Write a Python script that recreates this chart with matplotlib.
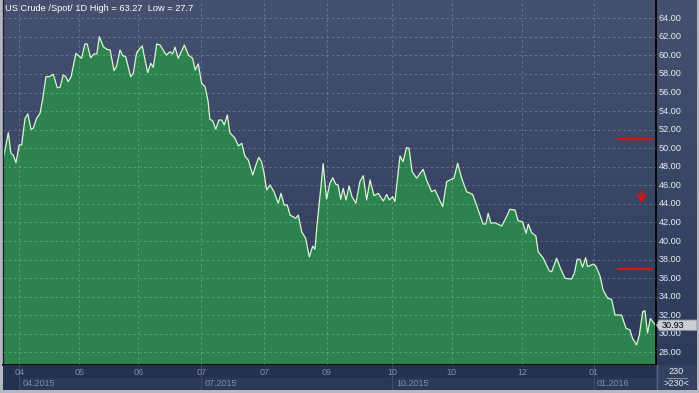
import numpy as np
import matplotlib
matplotlib.use('Agg')
from matplotlib import pyplot as plt
from matplotlib.colors import LinearSegmentedColormap
from matplotlib.patches import Rectangle, Polygon
import matplotlib.transforms as mtransforms

plt.rcParams['font.family'] = ['Liberation Sans', 'DejaVu Sans']

# US crude spot, daily closes (trading-day index, price)
day = [0.1, 1.9, 2.8, 3.6, 4.6, 5.7, 6.6, 7.8, 8.8, 9.9, 10.7, 11.9, 13.1, 14.0, 15.2, 16.4, 17.8, 19.2, 20.2, 21.3,
       22.2, 23.1, 24.1, 25.8, 27.8, 29.0, 29.8, 31.0, 32.2, 33.2, 34.1, 35.5, 36.7, 37.9, 39.3, 40.2, 41.4, 42.4, 43.4,
       45.2, 46.1, 47.3, 48.5, 49.3, 49.9, 51.2, 52.3, 53.2, 54.4, 55.6, 57.0,
       57.9, 59.1, 60.0, 60.9, 62.0, 64.2, 65.6, 67.1, 68.0, 69.1, 70.3, 71.5, 72.6, 73.2, 74.2, 75.3, 76.4, 77.4, 78.3,
       79.4, 80.3, 82.1, 83.3, 84.5, 85.6, 86.8, 88.4, 89.5, 90.5, 91.5, 92.4, 93.3, 94.5, 95.9, 97.4, 98.4, 99.5, 100.6,
       101.6, 103.6, 104.5, 105.7, 107.1, 108.4, 109.6, 110.4, 111.2, 112.4, 113.3, 114.5, 115.7, 116.7, 117.8, 118.6,
       119.5, 120.4, 121.4, 122.5, 123.5, 124.9, 126.3, 127.5, 128.7, 129.9, 131.3, 132.8, 134.6, 135.8, 136.7, 137.9,
       138.7, 140.5, 141.6, 142.8, 143.7, 144.8, 146.4, 148.7, 149.9, 151.7, 152.9, 154.0, 155.6, 157.0, 158.8, 159.6,
       160.9, 162.3, 164.1, 166.2, 168.2, 169.9, 170.9, 171.7, 172.7, 174.1, 176.5, 178.2, 179.4, 181.2, 182.3, 183.9,
       185.1, 185.9, 187.1, 188.6, 189.4, 191.2, 193.3, 194.2, 195.9, 197.3, 198.9, 201.2, 202.2, 203.2, 204.2, 205.1,
       206.2, 206.9, 208.9, 209.8, 211.3, 212.4, 214.0, 215.4, 216.6, 218.9, 220.5, 221.9, 222.8, 224.2, 225.2, 226.4,
       227.2, 228.1, 229.1, 230.9]
price = [48.91, 51.67, 49.45, 49.27, 48.44, 50.35, 50.35, 53.22, 53.69, 52.04, 52.15, 53.22, 53.76, 55.20, 57.71, 57.71,
         57.97, 56.52, 56.57, 57.89, 57.71, 57.17, 57.71, 60.23, 59.69, 61.23, 61.23, 59.75, 60.15, 60.15, 62.02, 60.94,
         60.66, 60.58, 58.35, 58.86, 60.58, 59.97, 59.86, 57.71, 58.07, 60.29, 60.77, 61.02, 60.05, 58.14, 59.15, 58.72,
         61.23, 61.12, 60.40,
         60.05, 60.40, 60.15, 60.88, 59.69, 61.12, 60.05, 59.69, 58.43, 59.08, 57.00, 56.63, 55.01, 53.12, 52.97, 52.04,
         53.04, 53.04, 52.50, 53.58, 51.67, 51.07, 50.24, 50.53, 49.16, 48.73, 47.11, 48.19, 49.02, 48.55, 47.30, 45.50,
         46.04, 45.31, 44.07, 45.14, 43.88, 43.88, 42.80, 42.45, 42.80, 41.00, 40.29, 38.28, 39.46, 39.11, 41.91, 45.50,
         48.33, 44.53, 46.22, 46.82, 46.11, 46.04, 44.50, 45.68, 44.42, 45.93, 44.78, 44.07, 46.39, 47.04, 44.42, 46.58,
         44.88, 45.14, 44.31, 45.03, 44.42, 44.78, 44.24, 49.16, 48.55, 50.06, 49.99, 47.47, 46.76, 47.73, 46.58, 45.31,
         45.50, 44.78, 43.70, 46.39, 46.68, 46.76, 48.38, 46.79, 45.31, 45.03, 43.34, 41.83, 41.83, 42.99, 41.91, 41.97,
         41.62, 42.62, 43.42, 43.34, 42.19, 42.08, 40.83, 41.83, 40.90, 40.54, 38.85, 38.14, 36.80, 36.69, 38.14, 37.06,
         35.98, 35.91, 36.52, 38.03, 38.03, 37.17, 38.20, 37.23, 37.52, 37.31, 36.23, 34.72, 33.83, 33.72, 32.03, 32.03,
         30.60, 30.41, 29.52, 28.80, 29.87, 32.38, 32.49, 30.09, 31.65, 30.93]
assert len(day) == len(price)

month_days = [5.8, 27.0, 47.9, 70.2, 92.5, 114.5, 137.8, 158.8, 183.8, 209.0]
month_labels = ['04', '05', '06', '07', '07', '09', '10', '10', '12', '01']
year_days = [5.8, 70.2, 137.8, 209.0]
year_labels = ['04.2015', '07.2015', '10.2015', '01.2016']
y_ticks = [28, 30, 32, 34, 36, 38, 40, 42, 44, 46, 48, 50, 52, 54, 56, 58, 60, 62, 64]
levels = [51.0, 37.0]
level_from, level_to = 217.2, 230.1
arrow_day, arrow_from, arrow_to = 226.0, 45.35, 44.15
last_price = 30.93
n_bars = 230
title = 'US Crude /Spot/ 1D High = 63.27  Low = 27.7'

W, H = 699, 393
fig = plt.figure(figsize=(W / 100, H / 100), dpi=100, facecolor='#b4b8c2')

# gradient background behind plot and price scale
bg = fig.add_axes([3 / W, 1 - 390 / H, 694 / W, 390 / H])
bg.axis('off')
cmap = LinearSegmentedColormap.from_list('bg', ['#2b3958', '#45516f'])
bg.imshow(np.linspace(0, 1, 256).reshape(-1, 1)[::-1], cmap=cmap, aspect='auto', extent=[0, 1, 0, 1])
bg.set_xlim(0, 1)
bg.set_ylim(0, 1)

ax = fig.add_axes([3 / W, 1 - 365 / H, 653 / W, 365 / H])
ax.patch.set_alpha(0)
ax.set_xlim(0, 231.1)
ax.set_ylim(26.64, 65.97)

ax.fill_between(day, price, 0, color='#2c8350', lw=0, zorder=1)
ax.plot(day, price, color='#d8f7cf', lw=0.9, zorder=2)

ax.set_axisbelow(False)
ax.set_xticks(month_days)
ax.set_yticks(y_ticks)
ax.tick_params(length=0, labelbottom=False, labelleft=False)
ax.grid(True, color='white', alpha=0.2, lw=0.75, ls=(0, (2.5, 2.5)))
ax.spines['top'].set_visible(False)
ax.spines['bottom'].set_color('black')
ax.spines['bottom'].set_linewidth(1.3)
ax.spines['right'].set_color('black')
ax.spines['right'].set_linewidth(1.3)
ax.spines['left'].set_color('#1c2232')
ax.spines['left'].set_linewidth(1.0)

# price scale labels
for v in y_ticks:
    ax.text(1.0045, v, f'{v:.2f}', transform=ax.get_yaxis_transform(), ha='left', va='center',
            fontsize=6.6, color='#e8ecf4', clip_on=False)

# red levels and arrow
for lv in levels:
    ax.plot([level_from, level_to], [lv, lv], color='#d81414', lw=1.7, solid_capstyle='butt', zorder=4)
ax.annotate('', xy=(arrow_day, arrow_to), xytext=(arrow_day, arrow_from),
            arrowprops=dict(arrowstyle='->,head_length=0.45,head_width=0.3', color='#e01010', lw=1.5,
                            mutation_scale=10, shrinkA=0, shrinkB=0), zorder=4)

# last price marker
bt = mtransforms.blended_transform_factory(fig.transFigure, ax.transData)
hh = 0.56
ax.add_patch(Polygon([(656.5 / W, last_price), (659 / W, last_price + hh), (697 / W, last_price + hh),
                      (697 / W, last_price - hh), (659 / W, last_price - hh)],
                     closed=True, transform=bt, fc='#c9cdd6', ec='#8a92a4', lw=0.6, clip_on=False, zorder=10))
ax.text(661.5 / W, last_price, f'{last_price:.2f}', transform=bt, ha='left', va='center',
        fontsize=6.6, color='black', clip_on=False, zorder=11)

# title
fig.text(5 / W, 1 - 8.5 / H, title, ha='left', va='center', fontsize=6.7, color='white')

# date strip
strip = fig.add_axes([3 / W, 1 - 390 / H, 653 / W, 25 / H])
strip.set_facecolor('#243250')
strip.set_xlim(0, 231.1)
strip.set_ylim(0, 25)
strip.set_xticks([])
strip.set_yticks([])
for s in strip.spines.values():
    s.set_visible(False)
strip.add_patch(Rectangle((year_days[0], 0), 231.1 - year_days[0], 12.5, fc='#2b3957', lw=0))
strip.vlines(year_days, 0, 25, color='#3c4a69', lw=0.8)
for d, lbl in zip(month_days, month_labels):
    strip.text(d, 17.5, lbl, ha='center', va='center', fontsize=6.5, color='#7f8dab')
for d, lbl in zip(year_days, year_labels):
    strip.annotate(lbl, (d, 6.2), xytext=(3.5, 0), textcoords='offset pixels', ha='left', va='center',
                   fontsize=6.5, color='#7f8dab')

# bar-count box
box = fig.add_axes([656 / W, 1 - 390 / H, 41 / W, 25 / H])
box.set_facecolor('#34425f')
box.set_xlim(0, 41)
box.set_ylim(0, 25)
box.set_xticks([])
box.set_yticks([])
for s in box.spines.values():
    s.set_visible(False)
box.axvline(0.5, color='#56647f', lw=1)
box.text(20.5, 18.5, str(n_bars), ha='center', va='center', fontsize=6.6, color='#e8ecf4')
box.plot([10.5, 30.5], [12, 12], color='#9aa4b8', lw=0.6)
box.text(20.5, 6, f'>{n_bars}<', ha='center', va='center', fontsize=6.6, color='#e8ecf4')

fig.savefig('out.png', dpi=100, facecolor=fig.get_facecolor())
